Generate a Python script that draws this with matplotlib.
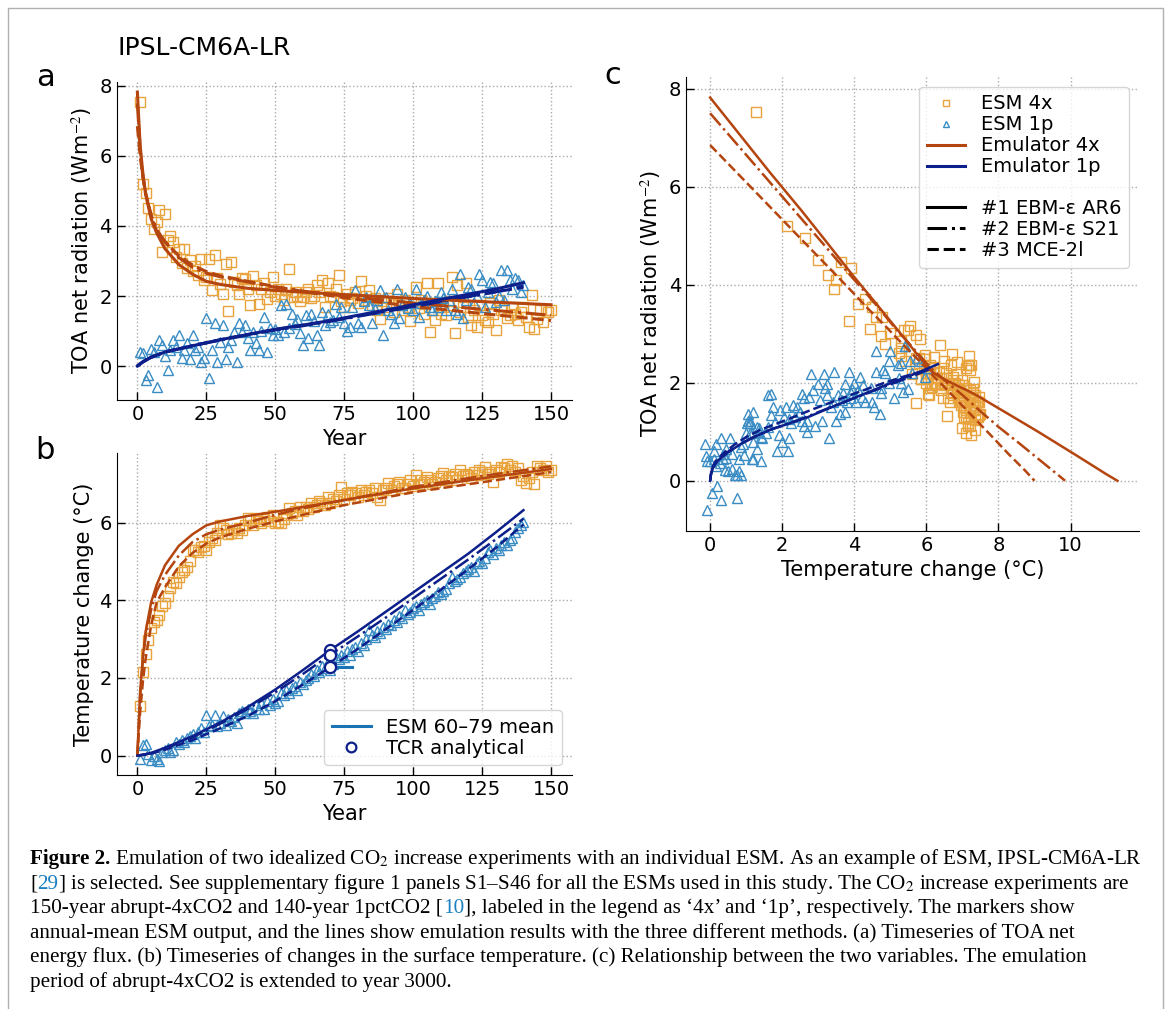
import numpy as np
import matplotlib.pyplot as plt
from matplotlib.lines import Line2D
from matplotlib.patches import Rectangle

plt.rcParams['font.family'] = 'DejaVu Sans'
plt.rcParams['mathtext.fontset'] = 'stix'

# ---- ESM annual means ----
years_4x = np.arange(1, 151)
years_1p = np.arange(1, 141)

esm4x_N = [7.53, 5.2, 4.95, 4.51, 4.2, 3.92, 4.1, 4.46, 3.26, 4.35,
           3.6, 3.7, 3.54, 3.1, 3.35, 2.95, 3.35, 2.8, 3.02, 2.7,
           2.85, 2.6, 3.07, 2.45, 2.55, 3.07, 2.17, 3.16, 2.5, 2.35,
           2.07, 2.9, 1.58, 2.97, 2.4, 2.3, 2.07, 2.5, 2.48, 2.2,
           1.74, 2.56, 2.3, 1.78, 2.2, 2.36, 1.91, 2.1, 2.53, 2.0,
           2.2, 2.07, 1.9, 2.2, 2.77, 1.97, 2.1, 2.0, 1.85, 1.97,
           2.1, 2.21, 1.95, 2.0, 2.31, 2.1, 2.45, 1.69, 2.36, 2.0,
           1.97, 2.2, 2.59, 1.85, 1.69, 2.05, 1.88, 1.95, 2.12, 1.8,
           2.43, 1.9, 2.0, 2.17, 1.75, 1.95, 1.6, 1.33, 1.85, 1.7,
           1.95, 1.8, 1.55, 2.05, 1.75, 1.6, 1.88, 1.7, 1.29, 1.8,
           2.26, 1.65, 1.9, 1.5, 2.36, 0.98, 1.6, 1.31, 2.36, 1.5,
           1.7, 1.45, 1.85, 2.54, 0.93, 2.31, 1.55, 1.7, 2.36, 1.4,
           1.17, 1.6, 1.12, 1.75, 1.45, 1.31, 1.26, 1.8, 1.5, 1.03,
           1.88, 1.6, 1.6, 1.36, 1.45, 1.7, 1.5, 1.31, 1.55, 1.69,
           1.4, 1.12, 2.02, 1.07, 1.35, 1.6, 1.25, 1.6, 1.55, 1.6]

esm4x_T = [1.27, 2.14, 2.62, 2.98, 3.28, 3.45, 3.5, 3.62, 3.84, 3.92,
           4.1, 4.31, 4.48, 4.44, 4.6, 4.74, 4.78, 4.85, 5.0, 5.3,
           5.3, 5.25, 5.38, 5.4, 5.3, 5.5, 5.6, 5.55, 5.72, 5.94,
           5.85, 5.82, 5.7, 5.72, 5.8, 5.72, 5.85, 5.8, 5.95, 6.11,
           6.07, 5.95, 6.11, 6.05, 5.98, 6.1, 6.15, 6.05, 6.2, 6.0,
           6.02, 5.98, 6.1, 6.2, 6.37, 6.25, 6.3, 6.2, 6.4, 6.3,
           6.41, 6.35, 6.5, 6.4, 6.45, 6.55, 6.5, 6.45, 6.67, 6.5,
           6.6, 6.55, 6.7, 6.92, 6.6, 6.75, 6.7, 6.79, 6.75, 6.67,
           6.85, 6.72, 6.8, 6.84, 6.75, 6.9, 6.65, 6.58, 6.85, 6.9,
           7.01, 6.85, 6.95, 7.0, 7.05, 6.9, 6.88, 7.0, 7.1, 6.95,
           7.22, 7.0, 7.1, 7.05, 7.18, 7.1, 7.0, 7.05, 7.15, 7.2,
           7.27, 7.1, 7.2, 7.18, 7.25, 7.1, 7.35, 7.2, 7.25, 7.22,
           7.15, 7.3, 7.22, 7.35, 7.3, 7.44, 7.25, 7.3, 7.05, 7.35,
           7.3, 7.44, 7.4, 7.5, 7.35, 7.45, 7.3, 7.4, 7.1, 7.2,
           7.01, 7.15, 7.31, 7.0, 7.45, 7.4, 7.35, 7.45, 7.3, 7.35]

esm1p_N = [0.41, 0.36, -0.4, -0.26, 0.5, 0.4, -0.59, 0.74, 0.6, 0.3,
           -0.11, 0.45, 0.74, 0.55, 0.88, 0.22, 0.45, 0.65, 0.2, 0.88,
           0.47, 0.55, 0.12, 0.24, 1.36, -0.35, 0.45, 1.22, 0.12, 0.69,
           1.17, 0.2, 0.53, 0.75, 0.98, 0.12, 1.22, 0.98, 1.17, 0.79,
           0.45, 0.98, 0.65, 0.45, 1.0, 1.4, 0.41, 1.09, 0.88, 1.07,
           0.9, 1.74, 0.98, 1.78, 1.1, 1.5, 1.2, 1.35, 0.93, 0.6,
           1.45, 0.79, 1.5, 1.3, 0.88, 0.6, 1.55, 1.17, 1.5, 1.25,
           1.31, 1.78, 1.4, 1.69, 1.22, 1.0, 1.12, 1.7, 2.17, 1.22,
           1.12, 1.85, 1.97, 1.75, 1.22, 1.64, 1.9, 2.17, 0.88, 1.97,
           1.6, 1.5, 1.22, 2.21, 1.36, 1.75, 1.97, 1.65, 1.8, 1.6,
           2.21, 1.41, 1.8, 1.88, 2.0, 1.69, 1.6, 1.85, 1.7, 2.12,
           1.95, 1.6, 1.9, 2.21, 1.6, 1.5, 2.64, 1.36, 1.9, 2.26,
           2.2, 1.8, 2.0, 2.64, 2.45, 1.69, 2.1, 2.4, 2.36, 1.82,
           2.0, 2.74, 1.88, 2.74, 2.45, 2.2, 2.5, 2.45, 2.12, 2.3]

esm1p_T = [-0.1, 0.28, 0.3, 0.05, -0.12, 0.0, -0.1, -0.15, 0.1, 0.15,
           0.2, 0.1, 0.15, 0.35, 0.3, 0.4, 0.35, 0.45, 0.5, 0.55,
           0.45, 0.6, 0.7, 0.6, 1.05, 0.75, 0.8, 1.05, 0.75, 0.85,
           1.01, 0.8, 0.95, 0.9, 1.0, 0.85, 1.1, 1.15, 1.1, 1.2,
           1.15, 1.1, 1.3, 1.2, 1.35, 1.2, 1.4, 1.3, 1.45, 1.35,
           1.4, 1.6, 1.55, 1.7, 1.6, 1.75, 1.8, 1.7, 1.9, 1.85,
           1.95, 2.0, 2.1, 2.05, 2.2, 2.15, 2.3, 2.25, 2.4, 2.2,
           2.35, 2.55, 2.5, 2.6, 2.55, 2.7, 2.6, 2.75, 2.8, 2.7,
           2.9, 2.85, 3.0, 3.24, 3.1, 3.05, 3.2, 3.15, 3.3, 3.25,
           3.4, 3.35, 3.5, 3.45, 3.6, 3.55, 3.75, 3.65, 3.7, 3.8,
           3.85, 3.75, 3.9, 3.95, 4.0, 3.9, 4.05, 4.1, 4.2, 4.15,
           4.25, 4.3, 4.45, 4.61, 4.5, 4.55, 4.6, 4.7, 4.75, 4.8,
           4.85, 4.75, 4.95, 5.0, 4.95, 5.1, 5.25, 5.3, 5.2, 5.35,
           5.3, 5.42, 5.5, 5.42, 5.55, 5.6, 5.75, 5.85, 5.95, 6.02]

# ---- emulator results (#1 AR6 solid, #2 S21 dash-dot, #3 MCE-2l dashed) ----
emu4x_years = [0, 1, 2, 3, 5, 7, 10, 15, 20, 25, 30, 40, 50, 60, 75, 100, 125, 150]
emu4x_N = {
    '1': [7.82, 6.3, 5.5, 4.9, 4.2, 3.8, 3.35, 2.9, 2.62, 2.42, 2.33, 2.22, 2.16, 2.11, 2.04, 1.93, 1.84, 1.75],
    '2': [7.5, 6.2, 5.4, 4.9, 4.3, 3.9, 3.55, 3.1, 2.82, 2.65, 2.55, 2.4, 2.25, 2.14, 2.0, 1.8, 1.62, 1.45],
    '3': [6.85, 6.0, 5.4, 4.95, 4.3, 3.85, 3.55, 3.15, 2.88, 2.7, 2.58, 2.42, 2.27, 2.13, 1.95, 1.7, 1.5, 1.3],
}
emu4x_T = {
    '1': [0, 1.65, 2.55, 3.2, 3.95, 4.4, 4.9, 5.4, 5.7, 5.93, 6.03, 6.17, 6.28, 6.4, 6.58, 6.88, 7.14, 7.38],
    '2': [0, 1.53, 2.47, 3.06, 3.76, 4.24, 4.65, 5.15, 5.5, 5.7, 5.82, 6.0, 6.2, 6.37, 6.58, 6.92, 7.2, 7.45],
    '3': [0, 1.12, 1.91, 2.5, 3.36, 3.95, 4.33, 4.87, 5.22, 5.46, 5.62, 5.84, 6.03, 6.2, 6.45, 6.78, 7.04, 7.3],
}
# abrupt-4xCO2 emulation extended to year 3000 (panel c)
ext_years = [300, 500, 1000, 2000, 3000]
ext4x_T = {'1': [8.3, 9.1, 10.2, 11.0, 11.3],
           '2': [8.0, 8.6, 9.3, 9.7, 9.85],
           '3': [7.85, 8.3, 8.75, 8.95, 9.0]}
ext4x_N = {'1': [1.35, 1.0, 0.5, 0.13, 0.0],
           '2': [1.1, 0.75, 0.33, 0.09, 0.0],
           '3': [0.88, 0.53, 0.2, 0.04, 0.0]}

emu1p_years = [0, 2, 5, 10, 20, 30, 40, 50, 60, 70, 80, 90, 100, 110, 120, 130, 140]
emu1p_N = {
    '1': [0, 0.12, 0.25, 0.4, 0.58, 0.75, 0.9, 1.05, 1.17, 1.3, 1.45, 1.6, 1.75, 1.9, 2.05, 2.2, 2.38],
    '2': [0, 0.12, 0.25, 0.4, 0.58, 0.74, 0.89, 1.03, 1.15, 1.28, 1.42, 1.56, 1.7, 1.84, 1.98, 2.12, 2.28],
    '3': [0, 0.12, 0.25, 0.4, 0.58, 0.75, 0.9, 1.04, 1.16, 1.29, 1.43, 1.57, 1.71, 1.85, 1.99, 2.12, 2.25],
}
emu1p_T = {
    '1': [0, 0.02, 0.07, 0.2, 0.5, 0.85, 1.25, 1.7, 2.2, 2.72, 3.2, 3.7, 4.2, 4.7, 5.2, 5.75, 6.32],
    '2': [0, 0.02, 0.06, 0.18, 0.47, 0.82, 1.2, 1.63, 2.1, 2.6, 3.07, 3.55, 4.05, 4.55, 5.05, 5.57, 6.1],
    '3': [0, 0.02, 0.05, 0.15, 0.4, 0.7, 1.02, 1.4, 1.83, 2.28, 2.75, 3.25, 3.75, 4.27, 4.8, 5.35, 5.95],
}
tcr_year = 70
tcr_values = [2.72, 2.6, 2.28]
esm_mean_years = [70, 78]
esm_mean_T = 2.27

styles = {'1': '-', '2': '-.', '3': '--'}
c4x_mk = '#E8A33D'
c4x_ln = '#B5450F'
c1p_mk = '#3A8CC4'
c1p_ln = '#0D1F8A'
c_mean = '#1B72B5'


def style_axes(ax):
    for s in ['top', 'right']:
        ax.spines[s].set_visible(False)
    ax.tick_params(direction='in', length=6, width=1, labelsize=14)
    ax.grid(True, ls=':', color='#aaaaaa', lw=1)
    ax.set_axisbelow(True)


fig = plt.figure(figsize=(11.71, 10.09), dpi=100)
W, H = 1171, 1009

def add_ax(l, t, r, b):
    return fig.add_axes([l / W, 1 - b / H, (r - l) / W, (b - t) / H])

ax_a = add_ax(116.7, 81.7, 571.7, 400)
ax_b = add_ax(116.7, 452.7, 571.7, 775)
ax_c = add_ax(686, 77, 1139, 530.7)

mk4 = dict(ls='none', marker='s', mfc='none', mec=c4x_mk, ms=6.5, mew=1.0)
mk1 = dict(ls='none', marker='^', mfc='none', mec=c1p_mk, ms=7, mew=1.0)

# panel a
ax_a.plot(years_4x, esm4x_N, **mk4)
ax_a.plot(years_1p, esm1p_N, **mk1)
for k in ['3', '2', '1']:
    ax_a.plot(emu4x_years, emu4x_N[k], ls=styles[k], color=c4x_ln, lw=2.2)
    ax_a.plot(emu1p_years, emu1p_N[k], ls=styles[k], color=c1p_ln, lw=2.2)
ax_a.set_xlim(-7.5, 157.5)
ax_a.set_ylim(-0.97, 8.12)
ax_a.set_xticks([0, 25, 50, 75, 100, 125, 150])
ax_a.set_yticks([0, 2, 4, 6, 8])
ax_a.set_xlabel('Year', fontsize=15)
ax_a.set_ylabel('TOA net radiation (Wm$^{-2}$)', fontsize=15)
style_axes(ax_a)

# panel b
ax_b.plot(years_4x, esm4x_T, **mk4)
ax_b.plot(years_1p, esm1p_T, **mk1)
for k in ['3', '2', '1']:
    ax_b.plot(emu4x_years, emu4x_T[k], ls=styles[k], color=c4x_ln, lw=1.8)
    ax_b.plot(emu1p_years, emu1p_T[k], ls=styles[k], color=c1p_ln, lw=1.8)
ax_b.plot(esm_mean_years, [esm_mean_T, esm_mean_T], color=c_mean, lw=2.2)
ax_b.plot([tcr_year] * 3, tcr_values, ls='none', marker='o', mfc='white',
          mec=c1p_ln, ms=8, mew=1.6)
ax_b.set_xlim(-7.5, 157.5)
ax_b.set_ylim(-0.5, 7.8)
ax_b.set_xticks([0, 25, 50, 75, 100, 125, 150])
ax_b.set_yticks([0, 2, 4, 6])
ax_b.set_xlabel('Year', fontsize=15)
ax_b.set_ylabel('Temperature change (°C)', fontsize=15)
style_axes(ax_b)
hb = [Line2D([], [], color=c_mean, lw=2.2),
      Line2D([], [], ls='none', marker='o', mfc='none', mec=c1p_ln, ms=7, mew=1.6)]
ax_b.legend(hb, ['ESM 60–79 mean', 'TCR analytical'], loc='lower right',
            fontsize=14, labelspacing=0.1, handlelength=2.0)

# panel c
ax_c.plot(esm4x_T, esm4x_N, **mk4)
ax_c.plot(esm1p_T, esm1p_N, **mk1)
for k in ['3', '2', '1']:
    ax_c.plot(emu4x_T[k] + ext4x_T[k], emu4x_N[k] + ext4x_N[k],
              ls=styles[k], color=c4x_ln, lw=1.8)
    ax_c.plot(emu1p_T[k], emu1p_N[k], ls=styles[k], color=c1p_ln, lw=1.8)
ax_c.set_xlim(-0.67, 11.9)
ax_c.set_ylim(-1.02, 8.24)
ax_c.set_xticks([0, 2, 4, 6, 8, 10])
ax_c.set_yticks([0, 2, 4, 6, 8])
ax_c.set_xlabel('Temperature change (°C)', fontsize=15)
ax_c.set_ylabel('TOA net radiation (Wm$^{-2}$)', fontsize=15)
style_axes(ax_c)
hc = [Line2D([], [], ls='none', marker='s', mfc='none', mec=c4x_mk, ms=5, mew=1.0),
      Line2D([], [], ls='none', marker='^', mfc='none', mec=c1p_mk, ms=5, mew=1.0),
      Line2D([], [], color=c4x_ln, lw=2.2),
      Line2D([], [], color=c1p_ln, lw=2.2),
      Line2D([], [], ls='none'),
      Line2D([], [], color='black', lw=2.2, ls='-'),
      Line2D([], [], color='black', lw=2.2, ls='-.'),
      Line2D([], [], color='black', lw=2.2, ls='--')]
lc = ['ESM 4x', 'ESM 1p', 'Emulator 4x', 'Emulator 1p', ' ',
      '#1 EBM-ε AR6', '#2 EBM-ε S21', '#3 MCE-2l']
ax_c.legend(hc, lc, loc='upper right', fontsize=14, labelspacing=0.1,
            handlelength=2.0)

# labels
fig.text(117 / W, 1 - 48 / H, 'IPSL-CM6A-LR', fontsize=18, va='center')
fig.text(45 / W, 1 - 78 / H, 'a', fontsize=22, ha='center', va='center')
fig.text(45 / W, 1 - 451 / H, 'b', fontsize=22, ha='center', va='center')
fig.text(613 / W, 1 - 76 / H, 'c', fontsize=22, ha='center', va='center')

# border
fig.patches.append(Rectangle((8 / W, -0.05), 1155 / W, 1.05 - 8 / H,
                             transform=fig.transFigure, fill=False,
                             ec='#b0b0b0', lw=1.0))

# caption
link = '#1a7fc1'
caption = [
    [('Figure 2.', 'k', 'bold'),
     (' Emulation of two idealized CO$_2$ increase experiments with an individual ESM. As an example of ESM, IPSL-CM6A-LR', 'k', 'normal')],
    [('[', 'k', 'normal'), ('29', link, 'normal'),
     ('] is selected. See supplementary figure 1 panels S1–S46 for all the ESMs used in this study. The CO$_2$ increase experiments are', 'k', 'normal')],
    [('150-year abrupt-4xCO2 and 140-year 1pctCO2 [', 'k', 'normal'), ('10', link, 'normal'),
     ('], labeled in the legend as ‘4x’ and ‘1p’, respectively. The markers show', 'k', 'normal')],
    [('annual-mean ESM output, and the lines show emulation results with the three different methods. (a) Timeseries of TOA net', 'k', 'normal')],
    [('energy flux. (b) Timeseries of changes in the surface temperature. (c) Relationship between the two variables. The emulation', 'k', 'normal')],
    [('period of abrupt-4xCO2 is extended to year 3000.', 'k', 'normal')],
]
renderer = fig.canvas.get_renderer()
for i, segs in enumerate(caption):
    x = 30
    y = 864 + i * 24.6
    for s, col, wt in segs:
        t = fig.text(x / W, 1 - y / H, s, fontsize=15.2, color=col, weight=wt,
                     family='Liberation Serif', va='baseline')
        x += t.get_window_extent(renderer).width

fig.savefig('out.png', dpi=100)
